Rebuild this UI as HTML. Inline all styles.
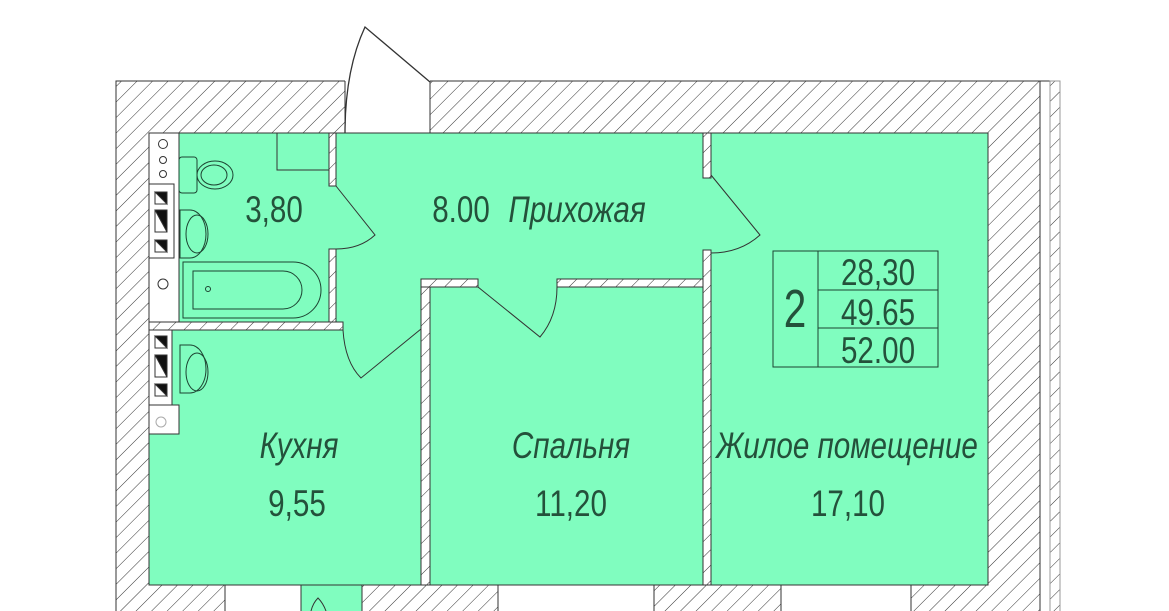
<!DOCTYPE html>
<html><head><meta charset="utf-8"><style>
html,body{margin:0;padding:0;background:#fff;width:1169px;height:611px;overflow:hidden}
svg{display:block}
text{font-family:"Liberation Sans",sans-serif;fill:#24513b;font-weight:normal}
</style></head><body>
<svg width="1169" height="611" viewBox="0 0 1169 611" xmlns="http://www.w3.org/2000/svg">
<defs>
<pattern id="h" width="11" height="11" patternUnits="userSpaceOnUse" patternTransform="rotate(45)">
<rect width="11" height="11" fill="#fff"/><line x1="0" y1="0" x2="0" y2="11" stroke="#333" stroke-width="1"/>
</pattern>
</defs>
<g stroke="#333" stroke-width="1">
<rect x="116" y="81" width="924" height="540" fill="url(#h)"/>
<rect x="1040" y="81" width="10" height="540" fill="#fff"/>
<rect x="1050" y="81" width="10" height="540" fill="url(#h)" stroke="#999"/>
<rect x="345" y="80" width="85" height="53" fill="#fff" stroke="none"/>
<line x1="345" y1="81" x2="345" y2="133"/><line x1="430" y1="81" x2="430" y2="133"/>
<path d="M345 133 Q345 70 365 27 L430 82" fill="#fff" stroke-width="1.3"/>
<rect x="149" y="133" width="839" height="452" fill="#80fdbf"/>
<rect x="225" y="585" width="76" height="30" fill="#fff"/>
<rect x="301" y="585" width="61" height="30" fill="#80fdbf"/>
<path d="M311 611 Q313 603 318 598 Q323 603 326 611" fill="none"/>
<rect x="498" y="585" width="156" height="30" fill="#fff"/>
<rect x="781" y="585" width="130" height="30" fill="#fff"/>
<rect x="149" y="133" width="30" height="189" fill="#fff"/>
<rect x="149" y="184" width="25" height="74" fill="#fff"/>
<rect x="149" y="330" width="23" height="75" fill="#fff"/>
<rect x="149" y="405" width="30" height="29" fill="#fff"/>
<circle cx="163" cy="144" r="4.5" fill="none"/><circle cx="163" cy="160" r="3.5" fill="none"/><circle cx="163" cy="174" r="3.5" fill="none"/>
<circle cx="163" cy="284" r="5" fill="none"/><circle cx="161" cy="422" r="5" fill="none" stroke="#aaa"/>
<g fill="#fff">
<rect x="155" y="192" width="12" height="12"/><path d="M155 192h12v12z" fill="#111"/>
<rect x="155" y="210" width="12" height="22"/><path d="M155 210h12v22z" fill="#111"/>
<rect x="155" y="240" width="12" height="12"/><path d="M155 240h12v12z" fill="#111"/>
<rect x="155" y="336" width="12" height="12"/><path d="M155 336h12v12z" fill="#111"/>
<rect x="155" y="355" width="12" height="22"/><path d="M155 355h12v22z" fill="#111"/>
<rect x="155" y="384" width="12" height="12"/><path d="M155 384h12v12z" fill="#111"/>
</g>
<g fill="none" stroke="#1d4432">
<rect x="179" y="157" width="18" height="36" rx="3"/>
<ellipse cx="215" cy="175" rx="18" ry="14"/><ellipse cx="214" cy="175" rx="13" ry="10"/>
<path d="M180 210 h10 a14 21 0 0 1 0 48 h-10 z"/><ellipse cx="197" cy="234" rx="11" ry="19"/>
<path d="M183 262 h110 a28 28 0 0 1 0 56 h-110 z" fill="none"/><path d="M193 271 h90 a19 19 0 0 1 0 38 h-90 z"/>
<circle cx="208" cy="289" r="2.5"/>
<path d="M180 345 h10 a14 21 0 0 1 0 48 h-10 z"/><ellipse cx="197" cy="372" rx="11" ry="19"/>
<rect x="277" y="133" width="52" height="37" stroke="#333"/>
</g>
<g fill="url(#h)">
<rect x="329" y="133" width="7" height="53"/>
<rect x="329" y="249" width="7" height="73"/>
<rect x="149" y="322" width="194" height="8"/>
<rect x="421" y="279" width="9" height="306"/>
<rect x="421" y="279" width="57" height="8"/>
<rect x="557" y="279" width="146" height="8"/>
<rect x="703" y="133" width="8" height="45"/>
<rect x="703" y="250" width="8" height="335"/>
</g>
<g fill="none">
<path d="M336 186 L375 235 Q360 249 336 249"/>
<path d="M343 330 Q345 362 361 378 L421 329"/>
<path d="M478 287 L540 337 Q557 317 557 287"/>
<path d="M711 175 L760 235 Q740 253 711 253"/>
</g>
<g fill="none" stroke="#1d4432">
<rect x="773" y="251" width="165" height="116"/>
<line x1="818" y1="251" x2="818" y2="367"/>
<line x1="818" y1="290" x2="938" y2="290"/>
<line x1="818" y1="328" x2="938" y2="328"/>
</g>
</g>
<g font-size="37">
<text x="274" y="222" text-anchor="middle" transform="translate(274 0) scale(0.8 1) translate(-274 0)">3,80</text>
<text x="461" y="222" text-anchor="middle" transform="translate(461 0) scale(0.8 1) translate(-461 0)">8.00</text>
<text x="577" y="222" text-anchor="middle" font-style="italic" transform="translate(577 0) scale(0.8 1) translate(-577 0)">Прихожая</text>
<text x="299" y="458" text-anchor="middle" font-style="italic" transform="translate(299 0) scale(0.8 1) translate(-299 0)">Кухня</text>
<text x="297" y="516" text-anchor="middle" transform="translate(297 0) scale(0.8 1) translate(-297 0)">9,55</text>
<text x="571" y="458" text-anchor="middle" font-style="italic" transform="translate(571 0) scale(0.8 1) translate(-571 0)">Спальня</text>
<text x="571" y="516" text-anchor="middle" transform="translate(571 0) scale(0.8 1) translate(-571 0)">11,20</text>
<text x="847" y="458" text-anchor="middle" font-style="italic" transform="translate(847 0) scale(0.8 1) translate(-847 0)">Жилое помещение</text>
<text x="848" y="516" text-anchor="middle" transform="translate(848 0) scale(0.8 1) translate(-848 0)">17,10</text>
<text x="878" y="285" text-anchor="middle" transform="translate(878 0) scale(0.8 1) translate(-878 0)">28,30</text>
<text x="878" y="325" text-anchor="middle" transform="translate(878 0) scale(0.8 1) translate(-878 0)">49.65</text>
<text x="878" y="363" text-anchor="middle" transform="translate(878 0) scale(0.8 1) translate(-878 0)">52.00</text>
<text x="795" y="327" font-size="54" text-anchor="middle" transform="translate(795 0) scale(0.75 1) translate(-795 0)">2</text>
</g>
</svg>
</body></html>
